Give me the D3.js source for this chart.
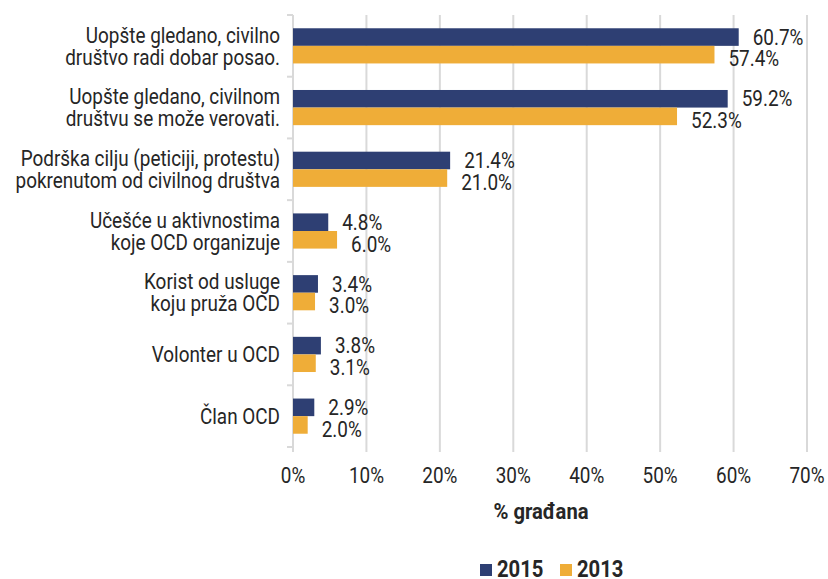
<!DOCTYPE html>
<html>
<head>
<meta charset="utf-8">
<script src="https://cdn.jsdelivr.net/npm/d3@7"></script>
<style>
  body { margin: 0; background: #fff; }
  text { font-family: "Roboto", sans-serif; fill: #262626; }
</style>
</head>
<body>
<div id="chart_container"></div>
<script>
/*-- chart data --*/
var categories = [
  ["Uopšte gledano, civilno", "društvo radi dobar posao."],
  ["Uopšte gledano, civilnom", "društvu se može verovati."],
  ["Podrška cilju (peticiji, protestu)", "pokrenutom od civilnog društva"],
  ["Učešće u aktivnostima", "koje OCD organizuje"],
  ["Korist od usluge", "koju pruža OCD"],
  ["Volonter u OCD"],
  ["Član OCD"]
];
var years = ["2015", "2013"];
var values2015 = [60.7, 59.2, 21.4, 4.8, 3.4, 3.8, 2.9];
var values2013 = [57.4, 52.3, 21.0, 6.0, 3.0, 3.1, 2.0];
var xTicks = [0, 10, 20, 30, 40, 50, 60, 70];
var colors = ["#2e3f73", "#efad38"];

// no condensed font installed, so squeeze Roboto horizontally
var SX = 0.86;

var margin = {top: 15, right: 21, bottom: 132, left: 293},
    width = 828 - margin.left - margin.right,
    height = 579 - margin.top - margin.bottom;

var svg = d3.select("#chart_container")
  .append("svg")
    .attr("width", 828)
    .attr("height", 579);

var g = svg.append("g")
    .attr("transform", "translate(" + margin.left + "," + margin.top + ")");

var x = d3.scaleLinear().domain([0, 70]).range([0, width]);
var y = d3.scaleBand().domain(d3.range(categories.length)).range([0, height]);
var barH = y.bandwidth() * 0.285;

function place(px, py, sx) {
  return "translate(" + px + "," + py + ") scale(" + (sx || SX) + ",1)";
}

// gridlines
g.selectAll(".grid")
  .data(xTicks)
.enter().append("line")
  .attr("class", "grid")
  .attr("x1", function(d) { return x(d); })
  .attr("x2", function(d) { return x(d); })
  .attr("y1", 0)
  .attr("y2", height + 5)
  .attr("stroke", "#d9d9d9")
  .attr("stroke-width", 2);

// left axis ticks at band edges
g.selectAll(".ytick")
  .data(d3.range(categories.length + 1))
.enter().append("line")
  .attr("x1", -6)
  .attr("x2", 0)
  .attr("y1", function(i) { return i * y.step(); })
  .attr("y2", function(i) { return i * y.step(); })
  .attr("stroke", "#d9d9d9")
  .attr("stroke-width", 2);

// category labels
var labels = g.selectAll(".cat")
  .data(categories)
.enter().append("text")
  .attr("class", "cat")
  .attr("text-anchor", "end")
  .style("font-size", "22px")
  .attr("transform", function(d, i) { return place(-13, y(i) + y.bandwidth() / 2); });

labels.selectAll("tspan")
  .data(function(d) { return d.map(function(t, j) { return {t: t, j: j, n: d.length}; }); })
.enter().append("tspan")
  .attr("x", 0)
  .attr("y", function(d) { return (d.j - (d.n - 1) / 2) * 22; })
  .attr("dy", "0.35em")
  .text(function(d) { return d.t; });

// bars
var series = [values2015, values2013];
series.forEach(function(vals, s) {
  g.selectAll(".bar" + s)
    .data(vals)
  .enter().append("rect")
    .attr("class", "bar" + s)
    .attr("x", x(0))
    .attr("y", function(d, i) { return y(i) + y.bandwidth() / 2 - barH + s * barH; })
    .attr("width", function(d) { return x(d) - x(0); })
    .attr("height", barH)
    .attr("fill", colors[s]);

  g.selectAll(".lab" + s)
    .data(vals)
  .enter().append("text")
    .attr("class", "lab" + s)
    .attr("transform", function(d, i) {
      return place(x(d) + 14, y(i) + y.bandwidth() / 2 - barH / 2 + s * (barH + 4));
    })
    .attr("dy", "0.35em")
    .style("font-size", "22px")
    .text(function(d) { return d.toFixed(1) + "%"; });
});

// x axis tick labels
g.selectAll(".xlab")
  .data(xTicks)
.enter().append("text")
  .attr("class", "xlab")
  .attr("transform", function(d) { return place(x(d), height + 28); })
  .attr("dy", "0.35em")
  .attr("text-anchor", "middle")
  .style("font-size", "22px")
  .text(function(d) { return d + "%"; });

// axis title
g.append("text")
  .attr("transform", place(width / 2 - 9, height + 64, 0.92))
  .attr("dy", "0.35em")
  .attr("text-anchor", "middle")
  .style("font-size", "22px")
  .style("font-weight", "bold")
  .text("% građana");

// legend
var legend = svg.append("g")
    .attr("transform", "translate(480,569)");

var item = legend.selectAll(".leg")
  .data(years)
.enter().append("g")
  .attr("transform", function(d, i) { return "translate(" + (i * 80) + ",0)"; });

item.append("rect")
  .attr("x", 0)
  .attr("y", -5)
  .attr("width", 12)
  .attr("height", 12)
  .attr("fill", function(d, i) { return colors[i]; });

item.append("text")
  .attr("transform", place(17, 0, 0.88))
  .attr("dy", "0.36em")
  .style("font-size", "23px")
  .style("font-weight", "bold")
  .text(function(d) { return d; });
</script>
</body>
</html>
